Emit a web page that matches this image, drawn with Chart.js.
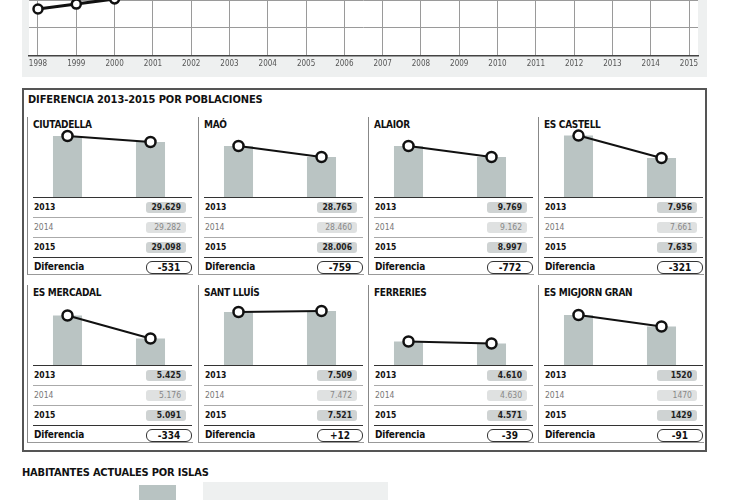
<!DOCTYPE html>
<html>
<head>
<meta charset="utf-8">
<script src="https://cdn.jsdelivr.net/npm/chart.js@4/dist/chart.umd.min.js"></script>
<style>
body { margin:0; width:730px; height:500px; overflow:hidden; background:#fff; position:relative;
       font-family:"Liberation Sans Narrow","DejaVu Sans Condensed","Open Sans",sans-serif; color:#111; }
.abs { position:absolute; }
#topBg { left:22px; top:0; width:685px; height:77px; background:#eef0f0; }
#topPlot { left:29px; top:0; width:669px; height:55px; background:#fff; }
#topChart { left:22px; top:0; }
#box { left:22px; top:88px; width:681px; height:360px; border:2px solid #555; }
#mainTitle { left:28px; top:93px; font-weight:bold; font-size:11px; line-height:13px; letter-spacing:-0.1px; }
.panel { position:absolute; width:165px; height:157px; border-left:1.5px solid #888; border-bottom:1px solid #999; }
.ptitle { position:absolute; left:5px; top:2px; font-weight:bold; font-size:10px; line-height:12px; letter-spacing:-0.3px; }
.panel canvas { position:absolute; left:-2px; top:10px; }
.tbl { position:absolute; left:5px; top:80px; width:159px; border-top:1.5px solid #333; }
.row { position:relative; height:19px; border-bottom:1px solid #aaa; font-size:8.5px; }
.row.last { border-bottom:1.5px solid #333; }
.row.dif { height:18px; border-bottom:none; }
.row .lab { position:absolute; left:1px; top:4px; line-height:10px; }
.row .val { position:absolute; right:6px; top:4px; width:40px; height:11px; line-height:11px; border-radius:3px;
            text-align:right; box-sizing:border-box; padding-right:5px; }
.b .lab, .b .val { font-weight:bold; }
.b .val { background:#cfd3d3; color:#222; }
.n .lab { color:#777; }
.n .val { background:#dfe1e1; color:#888; }
.dif .lab { font-weight:bold; font-size:10px; top:3px; line-height:12px; letter-spacing:-0.2px; }
.dif .val { right:0; width:46px; height:13px; top:3px; line-height:11px; border:1px solid #333; border-radius:6px;
            background:#fff; font-weight:bold; font-size:10px; text-align:center; padding-right:0; }
#islasTitle { left:22px; top:466px; font-weight:bold; font-size:11px; line-height:13px; letter-spacing:-0.2px; }
#islasSwatch { left:139px; top:485px; width:37px; height:15px; background:#b8c3c2; }
#islasBg { left:203px; top:482px; width:185px; height:18px; background:#eef0f0; }
</style>
</head>
<body>
<div id="topBg" class="abs"></div>
<div id="topPlot" class="abs"></div>
<canvas id="topChart" class="abs" width="685" height="77"></canvas>

<div id="box" class="abs"></div>
<div id="mainTitle" class="abs">DIFERENCIA 2013-2015 POR POBLACIONES</div>
<div id="panels"></div>

<div id="islasTitle" class="abs">HABITANTES ACTUALES POR ISLAS</div>
<div id="islasSwatch" class="abs"></div>
<div id="islasBg" class="abs"></div>

<script>
// evolución (solo se ve la parte baja del gráfico)
const years = [1998, 1999, 2000, 2001, 2002, 2003, 2004, 2005, 2006, 2007, 2008, 2009, 2010, 2011, 2012, 2013, 2014, 2015];
const islandPop = [68800, 70800, 72900, null, null, null, null, null, null, null, null, null, null, null, null, null, null, null];

// poblaciones
const towns = ['CIUTADELLA', 'MAÓ', 'ALAIOR', 'ES CASTELL', 'ES MERCADAL', 'SANT LLUÍS', 'FERRERIES', 'ES MIGJORN GRAN'];
const pop2013 = [29629, 28765, 9769, 7956, 5425, 7509, 4610, 1520];
const pop2014 = [29282, 28460, 9162, 7661, 5176, 7472, 4630, 1470];
const pop2015 = [29098, 28006, 8997, 7635, 5091, 7521, 4571, 1429];
// escala propia de cada mini gráfico
const axisMin = [24230, 25246, 6190, 7079, 4706, 6873, 4152, 1124];
const axisMax = [30425, 30076, 11103, 8078, 5723, 7713, 5517, 1678];
const noDots = ['ES MIGJORN GRAN'];

const colLeft = [27, 198, 368, 538];
const rowTop = [117, 285];

function fmt(v, town) {
    let s = String(Math.abs(v));
    if (noDots.indexOf(town) < 0) s = s.replace(/\B(?=(\d{3})+(?!\d))/g, '.');
    return s;
}

// gráfico superior
new Chart(document.getElementById('topChart'), {
    type: 'line',
    data: {
        datasets: [{
            data: years.map((y, i) => ({ x: y, y: islandPop[i] })),
            borderColor: '#111',
            borderWidth: 3,
            pointRadius: 4.5,
            pointBackgroundColor: '#fff',
            pointBorderColor: '#111',
            pointBorderWidth: 2.5,
            spanGaps: false
        }]
    },
    options: {
        responsive: false,
        animation: false,
        layout: { autoPadding: false, padding: { left: 7, right: 9, top: 0, bottom: 4 } },
        plugins: { legend: { display: false }, tooltip: { enabled: false } },
        scales: {
            x: {
                type: 'linear',
                min: 1997.765,
                max: 2015.235,
                ticks: {
                    stepSize: 1,
                    includeBounds: false,
                    autoSkip: false,
                    maxRotation: 0,
                    padding: 4,
                    color: '#555',
                    font: { size: 8, family: '"Liberation Sans Narrow","DejaVu Sans Condensed",sans-serif' },
                    callback: v => String(v)
                },
                grid: { color: '#9a9a9a', lineWidth: 1, drawTicks: false },
                border: { color: '#444', width: 1.5 }
            },
            y: {
                min: 50000,
                max: 72450,
                ticks: { display: false, stepSize: 10000, includeBounds: false },
                grid: { color: '#9a9a9a', lineWidth: 1, drawTicks: false },
                border: { display: false }
            }
        }
    }
});

// paneles por población
const holder = document.getElementById('panels');
towns.forEach((town, i) => {
    const left = colLeft[i % 4];
    const top = rowTop[Math.floor(i / 4)];
    const diff = pop2015[i] - pop2013[i];
    const p = document.createElement('div');
    p.className = 'panel';
    p.style.left = left + 'px';
    p.style.top = top + 'px';
    p.innerHTML =
        '<div class="ptitle">' + town + '</div>' +
        '<canvas width="166" height="70"></canvas>' +
        '<div class="tbl">' +
        '<div class="row b"><span class="lab">2013</span><span class="val">' + fmt(pop2013[i], town) + '</span></div>' +
        '<div class="row n"><span class="lab">2014</span><span class="val">' + fmt(pop2014[i], town) + '</span></div>' +
        '<div class="row b last"><span class="lab">2015</span><span class="val">' + fmt(pop2015[i], town) + '</span></div>' +
        '<div class="row dif"><span class="lab">Diferencia</span><span class="val">' + (diff > 0 ? '+' : '-') + fmt(diff, town) + '</span></div>' +
        '</div>';
    holder.appendChild(p);

    const vals = [pop2013[i], pop2015[i]];
    new Chart(p.querySelector('canvas'), {
        type: 'bar',
        data: {
            labels: ['2013', '2015'],
            datasets: [{
                type: 'line',
                data: vals,
                order: 0,
                borderColor: '#111',
                borderWidth: 2,
                pointRadius: 5,
                pointBackgroundColor: '#fff',
                pointBorderColor: '#111',
                pointBorderWidth: 2.5,
                clip: false
            }, {
                type: 'bar',
                data: vals,
                order: 1,
                backgroundColor: '#bac4c3',
                borderWidth: 0,
                barPercentage: 0.35,
                categoryPercentage: 1
            }]
        },
        options: {
            responsive: false,
            animation: false,
            layout: { autoPadding: false, padding: 0 },
            plugins: { legend: { display: false }, tooltip: { enabled: false } },
            scales: {
                x: { display: false, offset: true },
                y: { display: false, min: axisMin[i], max: axisMax[i] }
            }
        }
    });
});
</script>
</body>
</html>
